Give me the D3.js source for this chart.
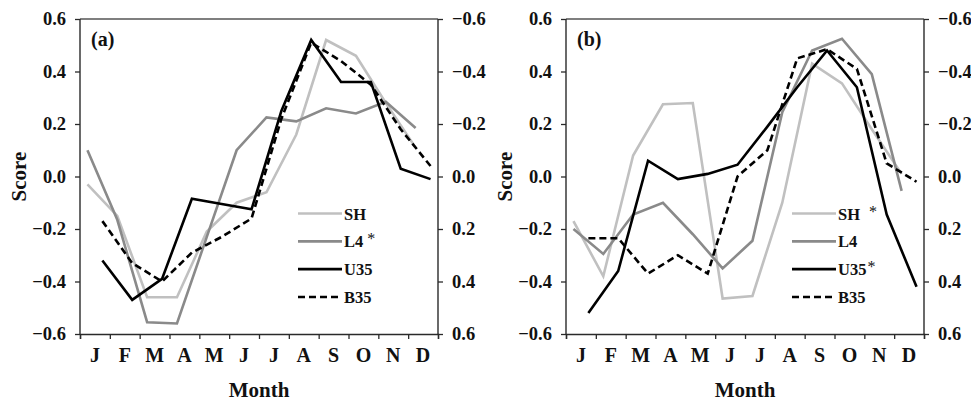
<!DOCTYPE html>
<html><head><meta charset="utf-8">
<script src="https://cdn.jsdelivr.net/npm/d3@7"></script>
<style>
html,body{margin:0;padding:0;background:#fff;}
text{font-family:"Liberation Serif","Times New Roman",serif;font-weight:bold;fill:#111;}
</style></head>
<body><svg id="chart" width="971" height="401"></svg>
<script>
// ---- data ----
const months = ["Jan","Feb","Mar","Apr","May","Jun","Jul","Aug","Sep","Oct","Nov","Dec"];
const monthLabels = ["J","F","M","A","M","J","J","A","S","O","N","D"];
const yTicks = [-0.6,-0.4,-0.2,0.0,0.2,0.4,0.6];

// panel (a): SH, L4 on left axis; U35, B35 on reversed right axis
const SH_a  = [-0.03,-0.15,-0.46,-0.46,-0.21,-0.10,-0.06,0.16,0.52,0.46,0.28,0.11];
const L4_a  = [0.10,-0.165,-0.555,-0.56,-0.23,0.10,0.225,0.21,0.26,0.24,0.285,0.185];
const U35_a = [0.32,0.47,0.39,0.085,0.105,0.125,-0.25,-0.52,-0.36,-0.36,-0.03,0.01];
const B35_a = [0.17,0.33,0.40,0.29,0.23,0.16,-0.22,-0.51,-0.44,-0.35,-0.18,-0.04];

// panel (b)
const SH_b  = [-0.17,-0.38,0.08,0.275,0.28,-0.465,-0.455,-0.10,0.43,0.355,0.18,0.01];
const L4_b  = [-0.20,-0.295,-0.145,-0.10,-0.22,-0.35,-0.245,0.245,0.48,0.525,0.39,-0.055];
const U35_b = [0.52,0.36,-0.06,0.01,-0.01,-0.045,-0.19,-0.34,-0.48,-0.34,0.145,0.42];
const B35_b = [0.235,0.235,0.37,0.30,0.37,0.0,-0.10,-0.45,-0.485,-0.41,-0.05,0.02];

const seriesNames = ["SH","L4","U35","B35"];
const starsA = ["","*","",""];
const starsB = ["*","","*",""];
const panelTags = ["(a)","(b)"];

// ---- styles ----
const styles = {
  SH:  {color:"#c0c0c0", dash:null, axis:"left"},
  L4:  {color:"#8a8a8a", dash:null, axis:"left"},
  U35: {color:"#000000", dash:null, axis:"right"},
  B35: {color:"#000000", dash:"7,4", axis:"right"}
};

const svg = d3.select("#chart");
const yTop = 19, yBottom = 334;

function drawPanel(x0, x1, data, stars, tag, legendX, starDx) {
  const g = svg.append("g");
  const xBand = d3.scaleBand().domain(months).range([x0, x1]).padding(0);
  const bw = xBand.bandwidth();
  const off = bw * 0.25;
  const xPrim = d3.scalePoint().domain(months).range([x0 + bw/2 - off, x1 - bw/2 - off]);
  const xSec  = d3.scalePoint().domain(months).range([x0 + bw/2 + off, x1 - bw/2 + off]);
  const yL = d3.scaleLinear().domain([-0.6, 0.6]).range([yBottom, yTop]);
  const yR = d3.scaleLinear().domain([0.6, -0.6]).range([yBottom, yTop]);
  const xEdge = d3.scaleLinear().domain([0, 12]).range([x0, x1]);

  g.append("line").attr("x1", x0).attr("x2", x1).attr("y1", yTop).attr("y2", yTop)
    .attr("stroke", "#555").attr("stroke-width", 1.6);

  const la = g.append("g").attr("transform", `translate(${x0},0)`)
    .call(d3.axisLeft(yL).tickValues(yTicks).tickSize(5).tickPadding(9).tickFormat(d3.format(".1f")));
  const ra = g.append("g").attr("transform", `translate(${x1},0)`)
    .call(d3.axisRight(yR).tickValues(yTicks).tickSize(5).tickPadding(9).tickFormat(d3.format(".1f")));
  const ba = g.append("g").attr("transform", `translate(0,${yBottom})`)
    .call(d3.axisBottom(xEdge).tickValues(d3.range(0, 13)).tickSize(5).tickFormat(""));
  const ml = g.append("g").attr("transform", `translate(0,${yBottom})`)
    .call(d3.axisBottom(xBand).tickSize(0).tickPadding(14).tickFormat((d, i) => monthLabels[i]));
  ml.select(".domain").remove();

  [la, ra, ba].forEach(a => {
    a.select(".domain").attr("stroke", "#2a2a2a").attr("stroke-width", 1.4);
    a.selectAll(".tick line").attr("stroke", "#2a2a2a").attr("stroke-width", 1.3);
    a.selectAll("text").attr("font-size", 18.5).attr("font-family", '"Liberation Serif",serif')
      .attr("font-weight", "bold").attr("fill", "#111");
  });
  ra.select(".domain").attr("d", `M0,${yTop}V${yBottom}`);
  la.select(".domain").attr("d", `M0,${yTop}V${yBottom}`);
  ml.selectAll("text").attr("font-size", 20).attr("font-family", '"Liberation Serif",serif')
    .attr("font-weight", "bold").attr("fill", "#111").attr("dy", "0.71em");

  seriesNames.forEach((name, k) => {
    const st = styles[name];
    const xs = st.axis === "left" ? xPrim : xSec;
    const ys = st.axis === "left" ? yL : yR;
    const line = d3.line().x((d, i) => xs(months[i])).y(d => ys(d));
    g.append("path").datum(data[k]).attr("d", line).attr("fill", "none")
      .attr("stroke", st.color).attr("stroke-width", 2.6)
      .attr("stroke-dasharray", st.dash).attr("stroke-linejoin", "miter");
  });

  const ly = d3.scalePoint().domain(seriesNames).range([213.5, 297]);
  seriesNames.forEach((name, k) => {
    const st = styles[name];
    g.append("line").attr("x1", legendX).attr("x2", legendX + 44)
      .attr("y1", ly(name)).attr("y2", ly(name))
      .attr("stroke", st.color).attr("stroke-width", 2.6).attr("stroke-dasharray", st.dash);
    const t = g.append("text").attr("x", legendX + 46).attr("y", ly(name) + 6)
      .attr("font-size", 16.5);
    t.append("tspan").text(name);
    if (stars[k]) {
      t.append("tspan").text(stars[k]).attr("dx", starDx[k]).attr("dy", -3)
        .attr("font-weight", "normal").attr("font-size", 16);
    }
  });

  g.append("text").attr("x", x0 + 11).attr("y", 46).attr("font-size", 20).text(tag);
  g.append("text").attr("transform", `translate(${x0 - 54},${(yTop + yBottom) / 2}) rotate(-90)`)
    .attr("text-anchor", "middle").attr("font-size", 21).text("Score");
  g.append("text").attr("x", (x0 + x1) / 2).attr("y", 397)
    .attr("text-anchor", "middle").attr("font-size", 21).text("Month");
}

drawPanel(80, 438, [SH_a, L4_a, U35_a, B35_a], starsA, panelTags[0], 298, [0, 4, 0, 0]);
drawPanel(566, 924, [SH_b, L4_b, U35_b, B35_b], starsB, panelTags[1], 792, [9, 0, 1, 0]);
</script></body></html>
